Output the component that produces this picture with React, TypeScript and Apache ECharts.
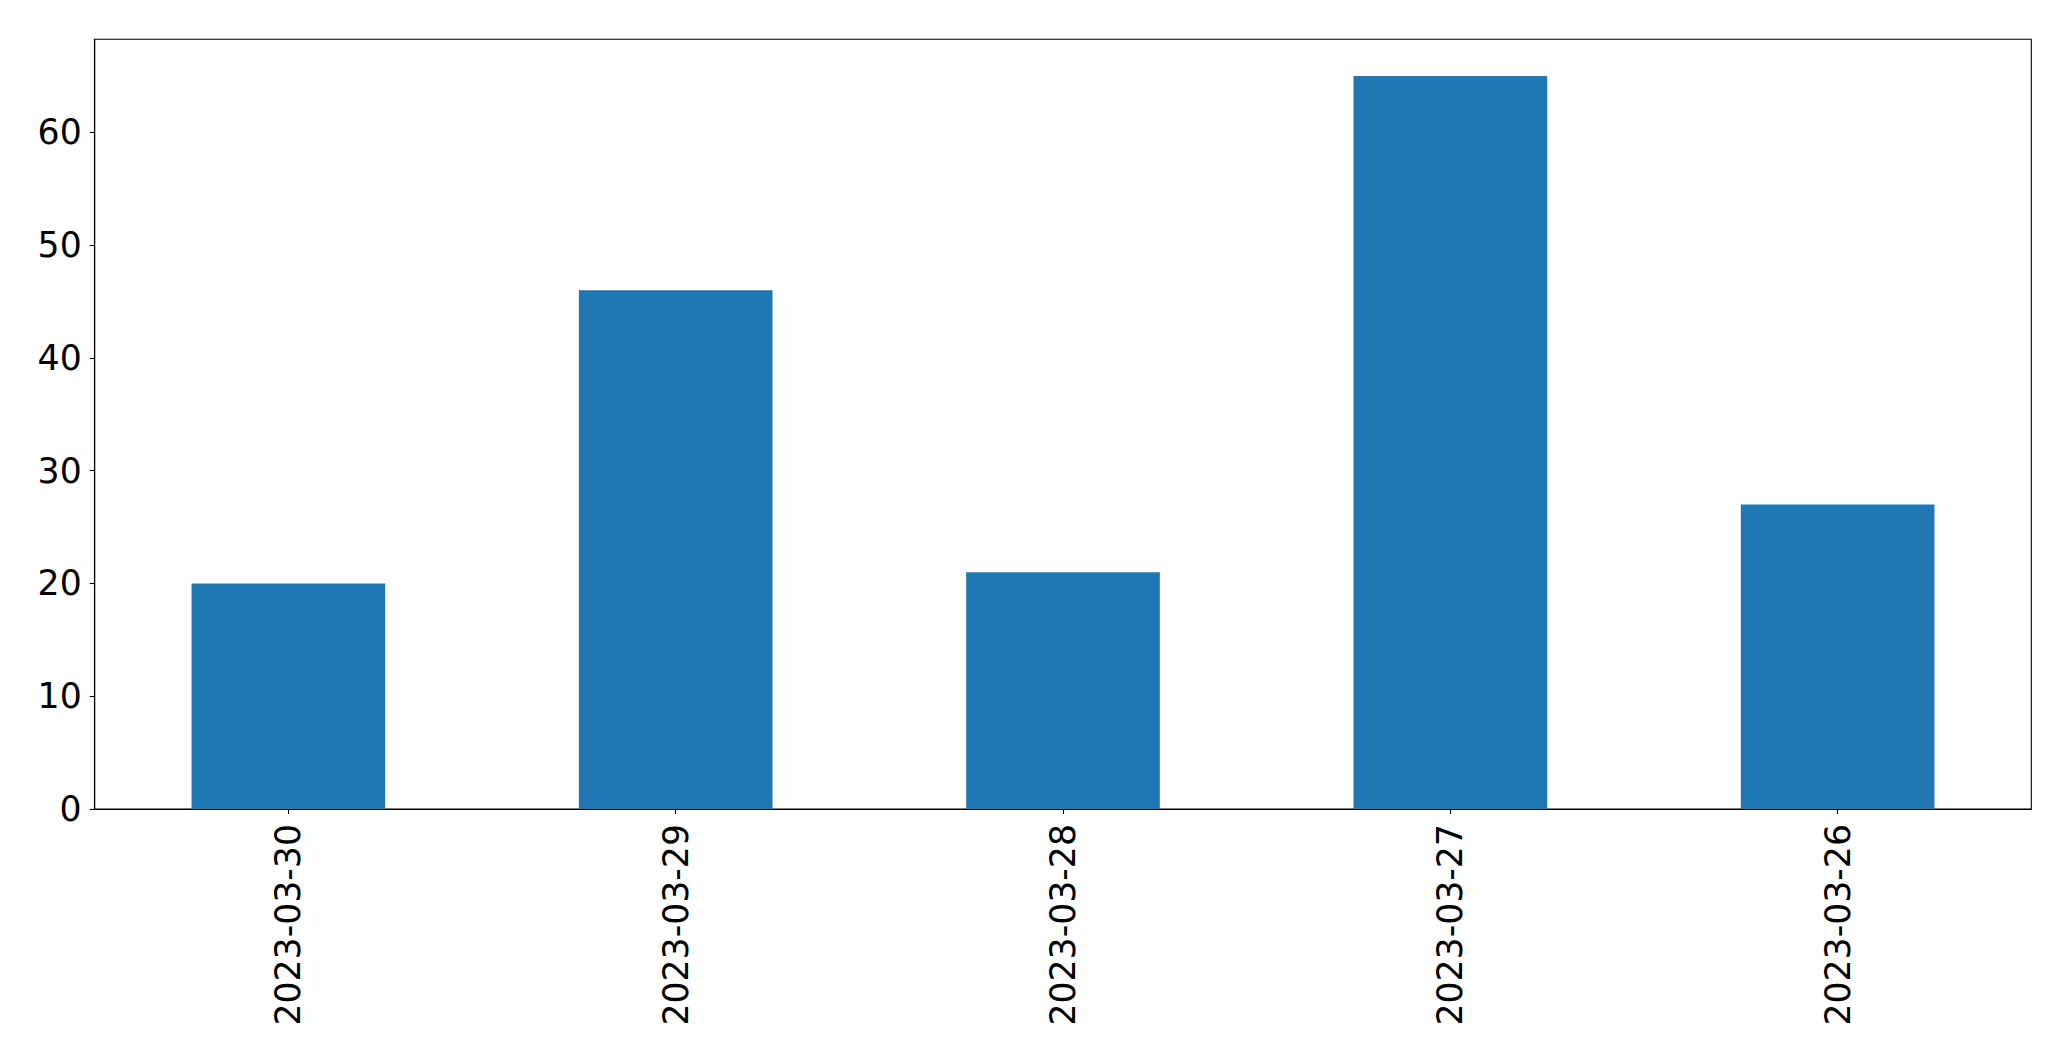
import React, { useEffect, useRef } from "react";
import * as echarts from "echarts";

const categories = ["2023-03-30", "2023-03-29", "2023-03-28", "2023-03-27", "2023-03-26"];
const values = [20, 46, 21, 65, 27];
const yTicks = [0, 10, 20, 30, 40, 50, 60];

export default function App() {
  const ref = useRef<HTMLDivElement>(null);
  useEffect(() => {
    if (!ref.current) return;
    const chart = echarts.init(ref.current, null, { renderer: "svg" });
    const font = "DejaVu Sans";
    chart.setOption({
      animation: false,
      backgroundColor: "#ffffff",
      grid: {
        left: 94.7,
        right: 39.7,
        top: 39.3,
        bottom: 252,
        show: true,
        borderColor: "#000000",
        borderWidth: 1.1,
        backgroundColor: "transparent",
      },
      xAxis: {
        type: "category",
        data: categories,
        boundaryGap: true,
        axisLine: { show: true, lineStyle: { color: "#000000", width: 1.1 } },
        axisTick: { show: true, alignWithLabel: true, length: 5, lineStyle: { color: "#000000", width: 1.1 } },
        axisLabel: {
          rotate: 90,
          margin: 15,
          color: "#000000",
          fontSize: 34.7,
          fontFamily: font,
          interval: 0,
        },
        splitLine: { show: false },
      },
      yAxis: {
        type: "value",
        min: 0,
        max: 68.25,
        interval: 10,
        axisLine: { show: true, lineStyle: { color: "#000000", width: 1.1 } },
        axisTick: { show: true, length: 5, customValues: yTicks, lineStyle: { color: "#000000", width: 1.1 } },
        axisLabel: {
          margin: 13,
          color: "#000000",
          fontSize: 34.7,
          fontFamily: font,
          customValues: yTicks,
        },
        splitLine: { show: false },
      },
      series: [
        {
          type: "bar",
          data: values,
          barWidth: "50%",
          itemStyle: { color: "#1f77b4" },
        },
      ],
    });
    return () => chart.dispose();
  }, []);
  return (
    <div
      ref={ref}
      style={{ position: "absolute", left: 0, top: 0, width: 2071, height: 1061, background: "#fff" }}
    />
  );
}
